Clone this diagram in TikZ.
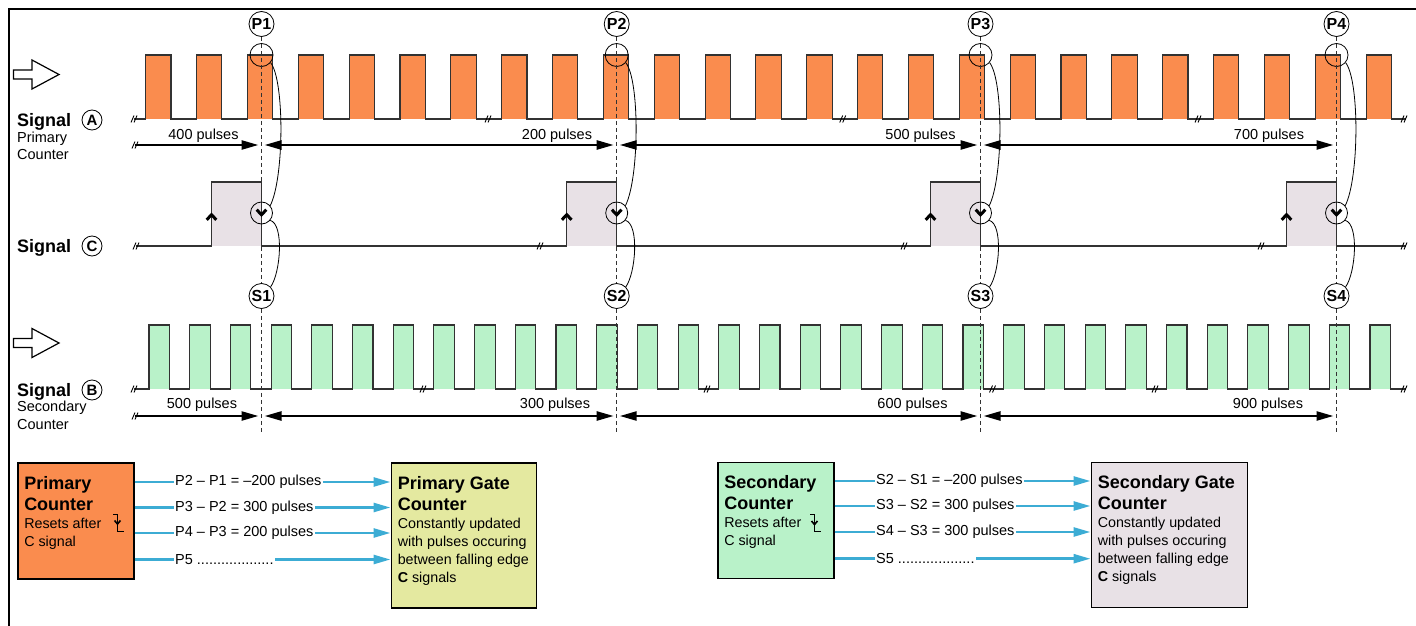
\documentclass[tikz,border=0pt]{standalone}
\usepackage{fontspec}
\setmainfont{Liberation Sans}
\usetikzlibrary{arrows.meta,calc,positioning}

\definecolor{pulseA}{RGB}{250,140,78}
\definecolor{pulseB}{RGB}{185,242,201}
\definecolor{gateA}{RGB}{228,233,160}
\definecolor{gateC}{RGB}{232,225,230}
\definecolor{feedblue}{RGB}{60,172,212}
\definecolor{wavegray}{RGB}{50,50,50}

\newcommand{\boxhead}{\fontsize{18}{21}\selectfont\bfseries}
\newcommand{\boxbody}{\fontsize{14.3}{18}\selectfont\mdseries}
\newcommand{\leaderdots}{...................}

\tikzset{
  wave/.style = {draw=wavegray, line width=1.1pt},
  marker/.style = {draw=wavegray, line width=0.8pt, dash pattern=on 4pt off 3pt},
  link/.style = {draw=black, line width=0.8pt},
  dim/.style = {line width=2.4pt, {Triangle[length=17pt,width=9pt]}-{Triangle[length=17pt,width=9pt]}},
  dimend/.style = {line width=2.4pt, -{Triangle[length=17pt,width=9pt]}},
  cntlbl/.style = {anchor=base, inner sep=0pt, font=\fontsize{14.5}{17}\selectfont},
  signame/.style = {anchor=base west, inner sep=0pt, font=\fontsize{18}{21}\selectfont\bfseries},
  subname/.style = {anchor=north west, inner sep=0pt, align=left, font=\fontsize{14.5}{17.5}\selectfont},
  sigcirc/.style = {circle, draw, line width=0.8pt, inner sep=0pt, minimum size=20pt, font=\fontsize{15}{15}\selectfont\bfseries},
  tag/.style = {circle, draw, fill=white, line width=0.8pt, inner sep=0pt, minimum size=25pt, font=\fontsize{16}{16}\selectfont\bfseries},
  ring/.style = {circle, draw, line width=0.8pt, inner sep=0pt, minimum size=23pt},
  ctrbox/.style = {draw, line width=1.5pt, anchor=north west, inner xsep=6.5pt, inner ysep=13.5pt},
  feed/.style = {draw=feedblue, line width=2.6pt, -{Triangle[length=17pt,width=9pt]}},
  feedlbl/.style = {anchor=west, fill=white, inner xsep=1.5pt, inner ysep=1pt, font=\fontsize{14.5}{17}\selectfont},
  brk/.pic = {\draw[line width=0.9pt] (-4,3.5) -- (-1,-3.5) (-1,3.5) -- (2,-3.5);},
  inarrow/.pic = {\draw[line width=1.2pt, fill=white] (0,-4.5) -- (18.5,-4.5) -- (18.5,-14.5)
                  -- (45.5,0) -- (18.5,14.5) -- (18.5,4.5) -- (0,4.5) -- cycle;},
  chevup/.pic = {\draw[line width=3pt, line join=miter] (-4.8,3.3) -- (0,-1.8) -- (4.8,3.3);},
  chevdn/.pic = {\draw[line width=3pt, line join=miter] (-4.8,-3.3) -- (0,1.8) -- (4.8,-3.3);},
  fallsym/.pic = {\draw[line width=0.8pt] (0,0) -- (4.5,0) -- (4.5,17) -- (10.5,17);
                  \draw[line width=1.6pt, line join=miter] (1.5,6.5) -- (4.5,10) -- (7.5,6.5);},
}

\begin{document}
\begin{tikzpicture}[x=1pt, y=-1pt]
\useasboundingbox (0,0) rectangle (1416,626);
\draw[line width=1.3pt] (9,626) -- (9,9) -- (1416,9);

\pic at (13.5,74.5) {inarrow};
\pic at (13.5,343) {inarrow};

\node[signame] (siga) at (17,126) {Signal};
\node[sigcirc] (ca) at (92,120) {A};
\node[subname] (suba) at (17,131.5) {Primary\\Counter};
\node[signame] (sigc) at (17,252) {Signal};
\node[sigcirc] (cc) at (92,246) {C};
\node[signame] (sigb) at (17,396.5) {Signal};
\node[sigcirc] (cb) at (92,390) {B};
\node[subname] (subb) at (17,401) {Secondary\\Counter};

% signal A
\foreach \i in {0,...,24}
  \fill[pulseA] ({145.7+50.85*\i},55) rectangle +(25.3,64);
\draw[wave] (134,119) foreach \i in {0,...,24} {
    -- ({145.7+50.85*\i},119) -- ++(0,-64) -- ++(25.3,0) -- ++(0,64)
  } -- (1406,119);
\foreach \x in {135,489,843.7,1199,1405}
  \pic at (\x,119) {brk};

% signal B
\foreach \i in {0,...,30}
  \fill[pulseB] ({149+40.7*\i},325) rectangle +(20.5,64);
\draw[wave] (134,389) foreach \i in {0,...,30} {
    -- ({149+40.7*\i},389) -- ++(0,-64) -- ++(20.5,0) -- ++(0,64)
  } -- (1406,389);
\foreach \x in {135,424,708,993.5,1156,1405}
  \pic at (\x,389) {brk};

% signal C
\foreach \x in {261.5,616.7,980.5,1336.5}
  \fill[gateC] ({\x-50},182) rectangle (\x,246);
\draw[wave] (136,246) foreach \x in {261.5,616.7,980.5,1336.5} {
    -- ({\x-50},246) -- ({\x-50},182) -- (\x,182) -- (\x,246)
  } -- (1406,246);
\foreach \x in {137,541,905,1262,1405}
  \pic at (\x,246) {brk};

\foreach \n/\x in {1/261.5,2/616.7,3/980.5,4/1336.5} {
  \node[tag] (p\n) at (\x,24) {P\n};
  \node[ring] (tp\n) at (\x,55) {};
  \node[ring, minimum size=22pt] (fe\n) at (\x,213) {};
  \node[tag] (s\n) at (\x,296) {S\n};
  \draw[marker] (p\n) -- (s\n);
  \draw[marker] (s\n) -- (s\n |- 0,432);
  \draw[link] (tp\n.-40) .. controls +(14,18) and +(14,-28) .. (fe\n.40);
  \draw[link] (fe\n.-40) .. controls +(14,4) and +(10,-14) .. (s\n.45);
  \pic at ({\x-50},216.5) {chevup};
  \pic at (\x,213) {chevdn};
}

% pulse counts
\draw[dimend] (135,145) -- ($(p1 |- 0,145)+(-3,0)$);
\draw[dimend] (135,416) -- ($(s1 |- 0,416)+(-3,0)$);
\foreach \a/\b in {1/2,2/3,3/4} {
  \draw[dim] ($(p\a |- 0,145)+(3,0)$) -- ($(p\b |- 0,145)+(-3,0)$);
  \draw[dim] ($(s\a |- 0,416)+(3,0)$) -- ($(s\b |- 0,416)+(-3,0)$);
}
\pic at (136,145) {brk};
\pic at (136,416) {brk};
\node[cntlbl] at (203.5,139.5) {400 pulses};
\node[cntlbl] at (557,139.5) {200 pulses};
\node[cntlbl] at (920.5,139.5) {500 pulses};
\node[cntlbl] at (1269,139.5) {700 pulses};
\node[cntlbl] at (202,408.5) {500 pulses};
\node[cntlbl] at (555,408.5) {300 pulses};
\node[cntlbl] at (912.5,408.5) {600 pulses};
\node[cntlbl] at (1268,408.5) {900 pulses};

% counters
\node[ctrbox, fill=pulseA] (pc) at (17,462)
  {\parbox[t][89pt][t]{103pt}{\boxhead Primary\\Counter\par\boxbody Resets after\\C signal}};
\node[ctrbox, fill=gateA] (pg) at (390.5,462)
  {\parbox[t][118pt][t]{132pt}{\boxhead Primary Gate\\Counter\par\boxbody Constantly updated\\with pulses occuring\\between falling edge\\\textbf{C} signals}};
\node[ctrbox, fill=pulseB] (sc) at (717,461.5)
  {\parbox[t][89pt][t]{103pt}{\boxhead Secondary\\Counter\par\boxbody Resets after\\C signal}};
\node[ctrbox, fill=gateC] (sg) at (1090.5,461.5)
  {\parbox[t][118pt][t]{143pt}{\boxhead Secondary Gate\\Counter\par\boxbody Constantly updated\\with pulses occuring\\between falling edge\\\textbf{C} signals}};
\pic at ($(pc.north west)+(96,52)$) {fallsym};
\pic at ($(sc.north west)+(93,53)$) {fallsym};

\foreach \y/\txt in {482/P2 – P1 = –200 pulses, 507.5/P3 – P2 = 300 pulses,
                     533/P4 – P3 = 200 pulses, 559.5/P5 \leaderdots} {
  \draw[feed] (pc.east |- 0,\y) -- (pg.west |- 0,\y);
  \node[feedlbl] at (173.5,\y) {\txt};
}
\foreach \y/\txt in {481/S2 – S1 = –200 pulses, 506/S3 – S2 = 300 pulses,
                     532/S4 – S3 = 300 pulses, 558.7/S5 \leaderdots} {
  \draw[feed] (sc.east |- 0,\y) -- (sg.west |- 0,\y);
  \node[feedlbl] at (874.5,\y) {\txt};
}
\end{tikzpicture}
\end{document}
